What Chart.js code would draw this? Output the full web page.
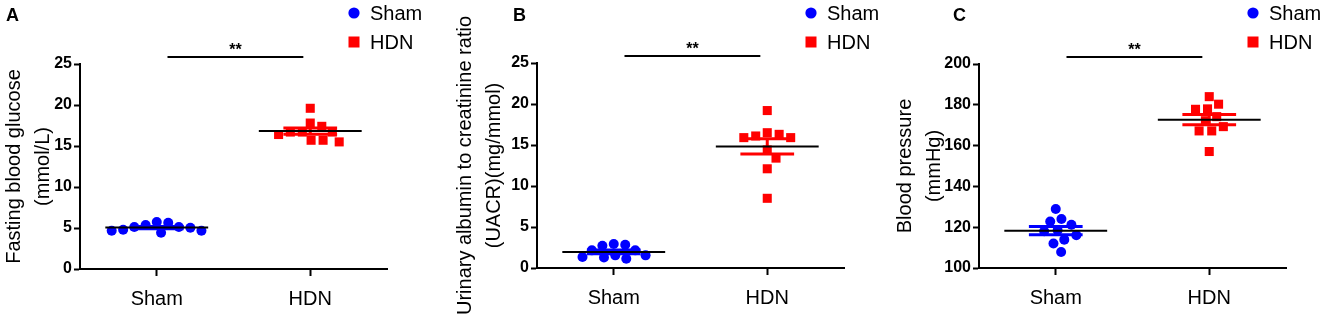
<!DOCTYPE html>
<html>
<head>
<meta charset="utf-8">
<script src="https://cdn.jsdelivr.net/npm/chart.js@4.4.0/dist/chart.umd.min.js"></script>
<style>
  html, body { margin: 0; padding: 0; background: #fff; }
  .panel { position: absolute; top: 0; height: 316px; }
</style>
</head>
<body>
<div class="panel" style="left:0;width:440px"><canvas id="chartA" width="440" height="316"></canvas></div>
<div class="panel" style="left:440px;width:440px"><canvas id="chartB" width="440" height="316"></canvas></div>
<div class="panel" style="left:880px;width:445px"><canvas id="chartC" width="445" height="316"></canvas></div>
<script>
// groups on the x axis
const groups = ["Sham", "HDN"];

// A - fasting blood glucose (mmol/L)
const glucoseSham = [5.12, 5.04, 4.67, 5.65, 4.43, 5.37, 4.67, 5.73, 4.79, 5.12];
const glucoseHDN = [16.7, 16.7, 17.8, 15.7, 19.6, 17.4, 15.5, 15.7, 16.4, 16.7];

// B - UACR (mg/mmol)
const uacrSham = [2.15, 1.54, 1.34, 2.84, 2.93, 1.13, 2.72, 1.29, 1.54, 2.15];
const uacrHDN = [19.2, 16.5, 16.3, 16.1, 15.9, 15.9, 14.4, 13.4, 12.1, 8.5];

// C - blood pressure (mmHg)
const bpSham = [128.9, 121.2, 122.8, 124.0, 118.5, 118.0, 113.9, 116.1, 112.0, 107.8];
const bpHDN = [184.0, 180.3, 177.8, 178.0, 172.2, 174.2, 167.2, 167.2, 169.3, 157.1];

const BLUE = "#0000ff";
const RED = "#ff0000";
const FONT = 'Arial, "Liberation Sans", sans-serif';

Chart.defaults.font.family = FONT;
Chart.defaults.color = "#000";

function mean(a) {
  return a.reduce((s, v) => s + v, 0) / a.length;
}
function sem(a) {
  const m = mean(a);
  const sd = Math.sqrt(a.reduce((s, v) => s + (v - m) * (v - m), 0) / (a.length - 1));
  return sd / Math.sqrt(a.length);
}

// mean line + SEM whiskers, as line datasets
function meanLine(sets) {
  const pts = [];
  sets.forEach((vals, i) => {
    const c = i + 1, m = mean(vals);
    if (i > 0) pts.push({ x: c - 0.5, y: null });
    pts.push({ x: c - 0.335, y: m }, { x: c + 0.335, y: m });
  });
  return pts;
}
function semBars(vals, c) {
  const m = mean(vals), s = sem(vals), w = 0.175;
  return [
    { x: c - w, y: m + s }, { x: c + w, y: m + s }, { x: c, y: null },
    { x: c, y: m + s }, { x: c, y: m - s }, { x: c, y: null },
    { x: c - w, y: m - s }, { x: c + w, y: m - s },
  ];
}

// simple beeswarm: spread points sideways so the markers don't overlap
function swarm(values, center, xs, ys, d) {
  const pts = values.map((v, i) => ({ i, py: ys.getPixelForValue(v), px: 0 }));
  const order = pts.slice().sort((a, b) => a.py - b.py);
  const placed = [];
  order.forEach(p => {
    const cands = [0];
    placed.forEach(q => {
      const dy = p.py - q.py;
      if (Math.abs(dy) < d) {
        const off = Math.sqrt(d * d - dy * dy);
        cands.push(q.px + off, q.px - off);
      }
    });
    cands.sort((a, b) => Math.abs(a) - Math.abs(b) || b - a);
    p.px = cands.find(c => placed.every(q => Math.hypot(c - q.px, p.py - q.py) >= d - 0.01));
    placed.push(p);
  });
  const unit = xs.getPixelForValue(1) - xs.getPixelForValue(0);
  return pts.map(p => ({ x: center + p.px / unit, y: values[p.i] }));
}

// panel letter, significance bar and the legend in the top right
const extras = {
  id: "extras",
  afterDraw(chart, args, opts) {
    const { ctx, chartArea, scales: { x } } = chart;
    ctx.save();
    ctx.fillStyle = "#000";
    ctx.font = "bold 18px " + FONT;
    ctx.textAlign = "left";
    ctx.textBaseline = "alphabetic";
    ctx.fillText(opts.letter, opts.letterX, 21);

    const x1 = x.getPixelForValue(1.07), x2 = x.getPixelForValue(1.955);
    const yb = chartArea.top - 7;
    ctx.strokeStyle = "#000";
    ctx.lineWidth = 2;
    ctx.beginPath();
    ctx.moveTo(x1, yb);
    ctx.lineTo(x2, yb);
    ctx.stroke();
    ctx.font = "bold 16px " + FONT;
    ctx.textAlign = "center";
    ctx.fillText("**", (x1 + x2) / 2, yb - 2);

    let ly = 13;
    const lx = chartArea.right - 33;
    chart.data.datasets.filter(ds => ds.label).forEach(ds => {
      ctx.fillStyle = ds.backgroundColor;
      if (ds.pointStyle === "rect") {
        ctx.fillRect(lx - 5.5, ly - 5.5, 11, 11);
      } else {
        ctx.beginPath();
        ctx.arc(lx, ly, 5.6, 0, Math.PI * 2);
        ctx.fill();
      }
      ctx.fillStyle = "#000";
      ctx.font = "20px " + FONT;
      ctx.textAlign = "left";
      ctx.textBaseline = "middle";
      ctx.fillText(ds.label, lx + 16, ly + 1);
      ly += 29;
    });
    ctx.restore();
  }
};

function makePanel(id, sham, hdn, yTitle, yMin, yMax, yStep, lay) {
  const chart = new Chart(document.getElementById(id), {
    type: "scatter",
    data: {
      datasets: [
        { type: "line", data: meanLine([sham, hdn]), borderColor: "#000", borderWidth: 2, pointRadius: 0, spanGaps: false },
        { type: "line", data: semBars(sham, 1), borderColor: BLUE, borderWidth: 3, pointRadius: 0, spanGaps: false },
        { type: "line", data: semBars(hdn, 2), borderColor: RED, borderWidth: 3, pointRadius: 0, spanGaps: false },
        { label: groups[0], data: sham.map(v => ({ x: 1, y: v })), pointStyle: "circle", pointRadius: 5, backgroundColor: BLUE, borderWidth: 0 },
        { label: groups[1], data: hdn.map(v => ({ x: 2, y: v })), pointStyle: "rect", pointRadius: 6.4, backgroundColor: RED, borderWidth: 0 },
      ],
    },
    options: {
      responsive: false,
      animation: false,
      events: [],
      layout: { padding: { top: lay.top, right: lay.right, left: 0, bottom: 0 } },
      plugins: {
        legend: { display: false },
        tooltip: { enabled: false },
        extras: { letter: lay.letter, letterX: lay.letterX },
      },
      scales: {
        x: {
          type: "linear",
          min: 0.5,
          max: 2.5,
          afterBuildTicks: s => { s.ticks = [{ value: 1 }, { value: 2 }]; },
          afterFit: s => { s.height = lay.xHeight; },
          ticks: { callback: v => groups[v - 1], font: { size: 20 }, color: "#000", padding: 11, maxRotation: 0 },
          grid: { drawOnChartArea: false, tickLength: 7, tickWidth: 2, tickColor: "#000" },
          border: { display: true, color: "#000", width: 2 },
        },
        y: {
          min: yMin,
          max: yMax,
          afterFit: s => { s.width = lay.yWidth; },
          ticks: { stepSize: yStep, font: { size: 16, weight: "bold" }, color: "#000", padding: 2 },
          grid: { drawOnChartArea: false, tickLength: 6, tickWidth: 2, tickColor: "#000" },
          border: { display: true, color: "#000", width: 2 },
          title: { display: true, text: yTitle, font: { size: 20, lineHeight: 1.45 }, color: "#000", padding: { top: lay.titlePad, bottom: 0 } },
        },
      },
    },
    plugins: [extras],
  });
  // second pass: spread the dots once the scales are known
  chart.data.datasets[3].data = swarm(sham, 1, chart.scales.x, chart.scales.y, 11.5);
  chart.data.datasets[4].data = swarm(hdn, 2, chart.scales.x, chart.scales.y, 12);
  chart.update("none");
  return chart;
}

makePanel("chartA", glucoseSham, glucoseHDN, ["Fasting blood glucose", "(mmol/L)"], 0, 25, 5,
  { top: 64, right: 53, xHeight: 47, yWidth: 80, titlePad: 0, letter: "A", letterX: 6 });
makePanel("chartB", uacrSham, uacrHDN, ["Urinary albumin to creatinine ratio", "(UACR)(mg/mmol)"], 0, 25, 5,
  { top: 63, right: 36, xHeight: 48, yWidth: 97, titlePad: 11, letter: "B", letterX: 73 });
makePanel("chartC", bpSham, bpHDN, ["Blood pressure", "(mmHg)"], 100, 200, 20,
  { top: 64, right: 39, xHeight: 48, yWidth: 99, titlePad: 11, letter: "C", letterX: 73 });
</script>
</body>
</html>
